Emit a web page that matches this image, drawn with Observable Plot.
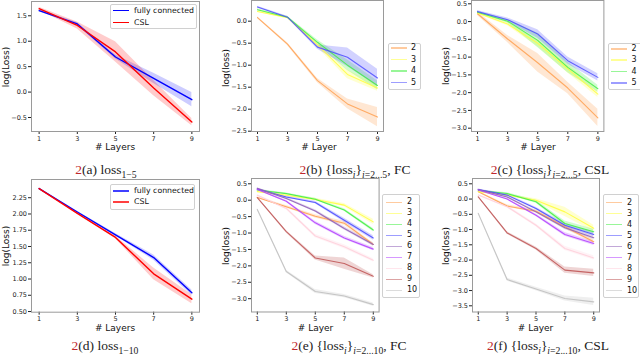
<!DOCTYPE html>
<html><head><meta charset="utf-8">
<script src="https://cdn.jsdelivr.net/npm/d3@7"></script>
<script src="https://cdn.jsdelivr.net/npm/@observablehq/plot@0.6"></script>
<style>
body{margin:0;background:#fff;}
#page{position:relative;width:640px;height:358px;overflow:hidden;background:#fff;font-family:"DejaVu Sans",sans-serif;color:#111;}
#page svg{position:absolute;background:transparent;}
.ylab{position:absolute;font-size:9px;transform:translate(-50%,-50%) rotate(-90deg);white-space:nowrap;}
.xlab{position:absolute;font-size:9px;transform:translate(-50%,-50%);white-space:nowrap;}
.cap{position:absolute;font-family:"Liberation Serif",serif;font-size:13.5px;transform:translate(-50%,-50%);white-space:nowrap;color:#222;line-height:1;}
.cap .n{color:#c0282d;}
.cap sub{font-size:72%;vertical-align:-0.35em;line-height:0;}
.leg{position:absolute;background:rgba(255,255,255,0.85);border:1px solid #d0d0d0;border-radius:2px;box-sizing:border-box;}
.sw{position:absolute;}
.lt{position:absolute;transform:translateY(-50%);white-space:nowrap;line-height:1;font-family:"DejaVu Sans",sans-serif;}
</style></head>
<body><div id="page"></div>
<script>
// ---------- data ----------
const layers = [1, 3, 5, 7, 9];

// (a) loss 1-5
const aFC = [1.60, 1.34, 0.69, 0.27, -0.15];
const aFCsd = [0.02, 0.03, 0.04, 0.10, 0.14];
const aCSL = [1.64, 1.31, 0.79, 0.08, -0.59];
const aCSLsd = [0.03, 0.07, 0.20, 0.15, 0.07];

// (d) loss 1-10
const dFC = [2.39, 2.03, 1.68, 1.33, 0.79];
const dFCsd = [0.01, 0.01, 0.02, 0.04, 0.04];
const dCSL = [2.39, 2.01, 1.64, 1.08, 0.69];
const dCSLsd = [0.01, 0.01, 0.02, 0.09, 0.07];

const seriesSmall = ["2", "3", "4", "5"];
const seriesLarge = ["2", "3", "4", "5", "6", "7", "8", "9", "10"];
const seriesColors = ["#ffa050", "#ffff40", "#44ee44", "#4c4cff", "#9060b8", "#b444ff", "#ffd0dc", "#c05858", "#c0c0c0"];

// (b) FC, i = 2..5
const bMean = [
  [0.08, -0.52, -1.35, -1.88, -2.18],
  [0.22, 0.08, -0.54, -1.21, -1.52],
  [0.26, 0.09, -0.48, -1.00, -1.46],
  [0.32, 0.09, -0.59, -0.82, -1.29]
];
const bSd = [
  [0.02, 0.03, 0.05, 0.11, 0.22],
  [0.02, 0.02, 0.05, 0.10, 0.07],
  [0.02, 0.02, 0.05, 0.12, 0.10],
  [0.02, 0.02, 0.05, 0.21, 0.20]
];

// (c) CSL, i = 2..5
const cMean = [
  [0.22, -0.49, -1.16, -1.87, -2.71],
  [0.24, -0.07, -0.61, -1.33, -2.04],
  [0.26, 0.01, -0.53, -1.29, -1.89],
  [0.28, 0.05, -0.35, -1.10, -1.57]
];
const cSd = [
  [0.05, 0.10, 0.26, 0.16, 0.24],
  [0.03, 0.05, 0.10, 0.12, 0.10],
  [0.03, 0.05, 0.20, 0.15, 0.10],
  [0.03, 0.05, 0.12, 0.10, 0.10]
];

// (e) FC, i = 2..10
const eMean = [
  [0.08, -0.20, -0.49, -0.70, -1.35],
  [0.26, 0.15, 0.02, -0.15, -0.66],
  [0.31, 0.20, 0.03, -0.30, -0.91],
  [0.34, 0.10, -0.07, -0.61, -1.15],
  [0.36, 0.05, -0.33, -0.86, -1.35],
  [0.33, -0.03, -0.69, -1.15, -1.49],
  [0.15, -0.25, -1.09, -1.42, -1.83],
  [0.08, -0.96, -1.76, -1.93, -2.32],
  [-0.28, -2.17, -2.78, -2.92, -3.18]
];
const eSd = [
  [0.02, 0.04, 0.05, 0.06, 0.05],
  [0.02, 0.03, 0.04, 0.05, 0.08],
  [0.02, 0.02, 0.03, 0.04, 0.05],
  [0.02, 0.03, 0.04, 0.06, 0.07],
  [0.02, 0.03, 0.04, 0.05, 0.05],
  [0.02, 0.03, 0.05, 0.05, 0.05],
  [0.02, 0.04, 0.05, 0.06, 0.05],
  [0.02, 0.04, 0.06, 0.17, 0.05],
  [0.02, 0.04, 0.06, 0.05, 0.05]
];

// (f) CSL, i = 2..10
const fMean = [
  [0.24, -0.23, -0.40, -0.91, -1.40],
  [0.24, 0.13, -0.04, -0.42, -0.96],
  [0.28, 0.18, -0.09, -0.80, -1.07],
  [0.31, 0.13, -0.31, -0.86, -1.16],
  [0.31, 0.07, -0.42, -0.94, -1.27],
  [0.30, 0.00, -0.53, -1.16, -1.46],
  [0.13, -0.25, -0.86, -1.62, -1.93],
  [0.07, -1.11, -1.62, -2.33, -2.42],
  [-0.47, -2.64, -2.95, -3.26, -3.37]
];
const fSd = [
  [0.02, 0.04, 0.05, 0.06, 0.06],
  [0.02, 0.03, 0.05, 0.15, 0.10],
  [0.02, 0.03, 0.05, 0.08, 0.08],
  [0.02, 0.03, 0.04, 0.06, 0.06],
  [0.02, 0.03, 0.04, 0.06, 0.06],
  [0.02, 0.03, 0.04, 0.06, 0.06],
  [0.02, 0.04, 0.05, 0.07, 0.07],
  [0.02, 0.04, 0.05, 0.10, 0.12],
  [0.03, 0.05, 0.06, 0.08, 0.12]
];

// ---------- helpers ----------
const page = document.getElementById("page");
const rowsOf = (mean, sd) => layers.map((x, i) => ({layer: x, mean: mean[i], lo: mean[i] - sd[i], hi: mean[i] + sd[i]}));

function seriesMarks(list, lineW, lineOp, bandOp) {
  const areas = [], lines = [];
  for (const s of list) {
    const rows = rowsOf(s.mean, s.sd);
    areas.push(Plot.areaY(rows, {x: "layer", y1: "lo", y2: "hi", fill: s.color, fillOpacity: bandOp}));
    lines.push(Plot.lineY(rows, {x: "layer", y: "mean", stroke: s.color, strokeWidth: lineW, strokeOpacity: lineOp}));
  }
  return [...areas, ...lines];
}

function panel({frame, yDomain, yTicks, yFmt, marks}) {
  const [x0, x1, y0, y1] = frame;
  const mL = 30, mR = 2, mT = 4, mB = 14;
  const svg = Plot.plot({
    width: x1 - x0 + mL + mR,
    height: y1 - y0 + mT + mB,
    marginLeft: mL, marginRight: mR, marginTop: mT, marginBottom: mB,
    x: {domain: [0.6, 9.4], ticks: layers, tickSize: 3, tickPadding: 1.5, label: null, tickFormat: d => String(d)},
    y: {domain: yDomain, ticks: yTicks, tickFormat: d3.format(yFmt), tickSize: 3, tickPadding: 1.5, label: null},
    style: {fontSize: "6.5px", fontFamily: "DejaVu Sans", color: "#222", background: "transparent", overflow: "visible"},
    marks: [...marks, Plot.frame({stroke: "#9a9a9a"})]
  });
  svg.style.left = (x0 - mL) + "px";
  svg.style.top = (y0 - mT) + "px";
  page.appendChild(svg);
}

function addText(cls, x, y, html) {
  const d = document.createElement("div");
  d.className = cls;
  d.style.left = x + "px";
  d.style.top = y + "px";
  d.innerHTML = html;
  page.appendChild(d);
}

function legend({box, items, firstY, step, swX, swW, txX, fs, lw, op}) {
  const [l, r, t, b] = box;
  const d = document.createElement("div");
  d.className = "leg";
  Object.assign(d.style, {left: l + "px", top: t + "px", width: (r - l) + "px", height: (b - t) + "px"});
  items.forEach((it, k) => {
    const y = firstY + k * step - t;
    const sw = document.createElement("div");
    sw.className = "sw";
    Object.assign(sw.style, {left: (swX - l) + "px", top: (y - lw / 2 - 1) + "px", width: swW + "px", height: lw + "px", background: it.color, opacity: op});
    d.appendChild(sw);
    const tx = document.createElement("div");
    tx.className = "lt";
    Object.assign(tx.style, {left: (txX - l) + "px", top: (y - 1) + "px", fontSize: fs + "px"});
    tx.textContent = it.label;
    d.appendChild(tx);
  });
  page.appendChild(d);
}

const small = (mean, sd) => seriesSmall.map((s, i) => ({name: s, color: seriesColors[i], mean: mean[i], sd: sd[i]}));
const large = (mean, sd) => seriesLarge.map((s, i) => ({name: s, color: seriesColors[i], mean: mean[i], sd: sd[i]}));
const twoLines = (fc, fcsd, csl, cslsd) => [
  {name: "fully connected", color: "#0000ff", mean: fc, sd: fcsd},
  {name: "CSL", color: "#ff0000", mean: csl, sd: cslsd}
];

// ---------- panels ----------
const aSeries = twoLines(aFC, aFCsd, aCSL, aCSLsd);
panel({frame: [30.5, 198.5, 1, 131], yDomain: [-0.775, 1.781], yTicks: [-0.5, 0, 0.5, 1, 1.5], yFmt: ".1f",
  marks: seriesMarks(aSeries, 1.4, 1, 0.2)});
const bSeries = small(bMean, bSd);
panel({frame: [250.7, 382.7, 0, 131], yDomain: [-2.507, 0.47], yTicks: d3.range(-2.5, 0.01, 0.5), yFmt: ".1f",
  marks: seriesMarks(bSeries, 1.1, 0.85, 0.25)});
const cSeries = small(cMean, cSd);
panel({frame: [471.3, 603.7, 0, 131], yDomain: [-3.093, 0.593], yTicks: d3.range(-3, 0.51, 0.5), yFmt: ".1f",
  marks: seriesMarks(cSeries, 1.1, 0.85, 0.25)});
const dSeries = twoLines(dFC, dFCsd, dCSL, dCSLsd);
panel({frame: [30.5, 198.5, 179, 311.7], yDomain: [0.49, 2.53], yTicks: d3.range(0.5, 2.3, 0.25), yFmt: ".2f",
  marks: seriesMarks(dSeries, 1.4, 1, 0.2)});
const eSeries = large(eMean, eSd);
panel({frame: [250.9, 378.5, 178, 311.5], yDomain: [-3.405, 0.661], yTicks: d3.range(-3, 0.51, 0.5), yFmt: ".1f",
  marks: seriesMarks(eSeries, 1.1, 0.9, 0.25)});
const fSeries = large(fMean, fSd);
panel({frame: [471.5, 598.5, 178, 311.5], yDomain: [-3.703, 0.674], yTicks: d3.range(-3.5, 0.51, 0.5), yFmt: ".1f",
  marks: seriesMarks(fSeries, 1.1, 0.9, 0.25)});

// ---------- axis labels ----------
addText("ylab", 5.5, 67, "log(Loss)");
addText("ylab", 225.5, 68, "log(loss)");
addText("ylab", 445.5, 66, "log(loss)");
addText("ylab", 5.5, 246, "log(Loss)");
addText("ylab", 225.5, 246, "log(loss)");
addText("ylab", 445.5, 246, "log(loss)");
addText("xlab", 115, 147, "# Layers");
addText("xlab", 319, 147, "# Layer");
addText("xlab", 538, 147, "# Layer");
addText("xlab", 115, 328.3, "# Layers");
addText("xlab", 315.5, 328.3, "# Layer");
addText("xlab", 535.5, 328, "# Layer");

// ---------- legends ----------
const legItems = list => list.map(s => ({label: s.name, color: s.color}));
legend({box: [110, 197, 4, 28.5], items: legItems(aSeries), firstY: 10.7, step: 12, swX: 112, swW: 16, txX: 133, fs: 7.8, lw: 1.6, op: 1});
legend({box: [110, 194.5, 184, 209.5], items: legItems(dSeries), firstY: 190.7, step: 11.7, swX: 112, swW: 16, txX: 133, fs: 7.8, lw: 2.2, op: 0.75});
legend({box: [387.7, 421.5, 43, 90], items: legItems(bSeries), firstY: 48, step: 11.5, swX: 390, swW: 16, txX: 410, fs: 8, lw: 1.8, op: 0.55});
legend({box: [607.7, 642, 43, 90], items: legItems(cSeries), firstY: 49, step: 11.3, swX: 610, swW: 16, txX: 630.5, fs: 8, lw: 1.8, op: 0.55});
legend({box: [382, 419.5, 194, 298], items: legItems(eSeries), firstY: 202.3, step: 11, swX: 385, swW: 15.7, txX: 406, fs: 8, lw: 1.6, op: 0.55});
legend({box: [602.7, 639.5, 194, 297.5], items: legItems(fSeries), firstY: 202.5, step: 11, swX: 605, swW: 15.7, txX: 626, fs: 8, lw: 1.6, op: 0.55});

// ---------- captions ----------
addText("cap", 106, 170, '<span class="n">2</span>(a) loss<sub>1−5</sub>');
addText("cap", 355, 170, '<span class="n">2</span>(b) {loss<sub><i>i</i></sub>}<sub><i>i</i>=2...5</sub>, FC');
addText("cap", 550, 170, '<span class="n">2</span>(c) {loss<sub><i>i</i></sub>}<sub><i>i</i>=2...5</sub>, CSL');
addText("cap", 105, 346, '<span class="n">2</span>(d) loss<sub>1−10</sub>');
addText("cap", 349, 346, '<span class="n">2</span>(e) {loss<sub><i>i</i></sub>}<sub><i>i</i>=2...10</sub>, FC');
addText("cap", 548, 346, '<span class="n">2</span>(f) {loss<sub><i>i</i></sub>}<sub><i>i</i>=2...10</sub>, CSL');
</script>
</body></html>
